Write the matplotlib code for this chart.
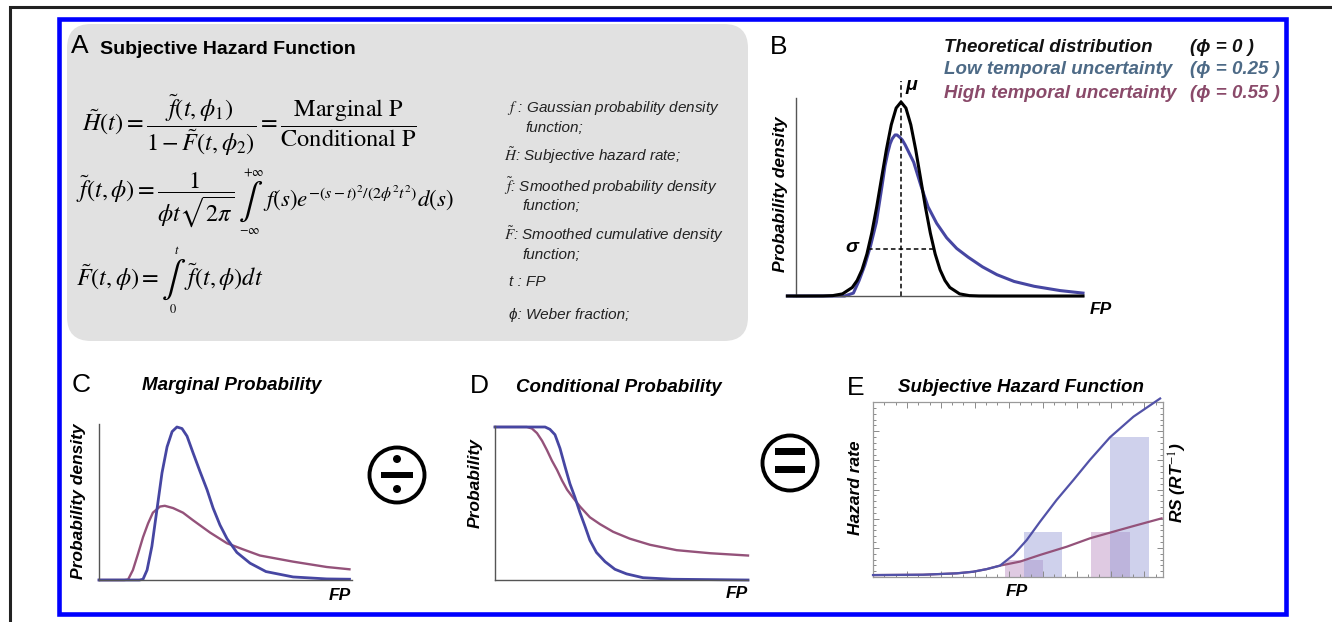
import matplotlib
matplotlib.use("Agg")
import matplotlib.pyplot as plt
from matplotlib.patches import Rectangle, Circle, FancyBboxPatch
from matplotlib.ticker import MultipleLocator

# figure size in pixels
W, H = 1332, 622

plt.rcParams['mathtext.fontset'] = 'stix'
plt.rcParams['font.family'] = ['Liberation Sans', 'DejaVu Sans']

# ---- data (FP axis 0..10, density 0..1) ----
# panel B: theoretical distribution and low-uncertainty smoothed version
b_theory_x = [-0.3, 0.26, 0.94, 1.28, 1.62, 1.96, 2.13, 2.30, 2.47, 2.64, 2.81, 2.98, 3.15,
              3.32, 3.49, 3.66, 3.83, 4.00, 4.17, 4.34, 4.51, 4.68, 4.85, 5.02, 5.19, 5.36,
              5.70, 6.04, 6.38, 7.0, 10.0]
b_theory_y = [0, 0, 0.0003, 0.002, 0.011, 0.044, 0.080, 0.135, 0.216, 0.325, 0.458, 0.607, 0.755,
              0.883, 0.969, 1.0, 0.969, 0.883, 0.755, 0.607, 0.458, 0.325, 0.216, 0.135, 0.080, 0.044,
              0.011, 0.002, 0.0003, 0, 0]
b_low_x = [-0.3, 1.7, 2.0, 2.2, 2.4, 2.6, 2.8, 3.0, 3.1, 3.2, 3.28, 3.35, 3.45, 3.52, 3.6, 3.7,
           3.8, 4.1, 4.35, 4.6, 4.9, 5.25, 5.6, 6.0, 6.5, 7.0, 7.6, 8.3, 9.2, 10.0]
b_low_y = [0, 0, 0.015, 0.08, 0.16, 0.26, 0.38, 0.57, 0.67, 0.74, 0.785, 0.81, 0.83, 0.83, 0.82,
           0.805, 0.78, 0.69, 0.57, 0.46, 0.375, 0.30, 0.245, 0.20, 0.15, 0.11, 0.075, 0.05, 0.028,
           0.015]
b_mu = 3.66
b_sigma_y = 0.242
b_sigma_x = [2.51, 4.81]

# panel C: marginal probability
c_low_x = [0, 1.6, 1.74, 1.90, 2.09, 2.29, 2.49, 2.69, 2.89, 3.08, 3.28, 3.48, 3.72, 3.99, 4.27,
           4.51, 4.78, 5.06, 5.45, 5.97, 6.6, 7.67, 9.0, 9.9]
c_low_y = [0, 0, 0.005, 0.065, 0.22, 0.46, 0.70, 0.87, 0.97, 1.0, 0.99, 0.94, 0.83, 0.71, 0.59,
           0.47, 0.36, 0.27, 0.18, 0.11, 0.055, 0.02, 0.007, 0.005]
c_high_x = [0, 1.0, 1.15, 1.34, 1.54, 1.74, 1.94, 2.13, 2.41, 2.6, 2.93, 3.32, 3.72, 4.39, 5.06,
            5.7, 6.36, 7.67, 9.0, 9.9]
c_high_y = [0, 0, 0.003, 0.065, 0.17, 0.28, 0.37, 0.44, 0.48, 0.485, 0.47, 0.44, 0.39, 0.31, 0.24,
            0.20, 0.16, 0.12, 0.085, 0.07]

# panel D: conditional probability
d_low_x = [0, 1.98, 2.17, 2.37, 2.57, 2.77, 2.96, 3.16, 3.36, 3.56, 3.75, 4.01, 4.35, 4.74, 5.2,
           5.85, 7.0, 10]
d_low_y = [1, 1, 0.985, 0.95, 0.86, 0.74, 0.63, 0.54, 0.44, 0.35, 0.26, 0.18, 0.12, 0.07, 0.04,
           0.015, 0.005, 0]
d_high_x = [0, 1.26, 1.46, 1.66, 1.86, 2.05, 2.25, 2.45, 2.65, 2.85, 3.1, 3.36, 3.75, 4.15, 4.67,
            5.33, 6.13, 7.18, 8.5, 10]
d_high_y = [1, 1, 0.99, 0.96, 0.91, 0.85, 0.78, 0.72, 0.65, 0.59, 0.535, 0.48, 0.41, 0.365, 0.315,
            0.27, 0.23, 0.195, 0.175, 0.16]

# panel E: subjective hazard + RS bars
e_low_x = [0, 1.73, 2.89, 3.45, 3.92, 4.38, 4.84, 5.30, 5.76, 6.33, 6.91, 7.48, 8.17, 8.98, 9.9]
e_low_y = [0.011, 0.013, 0.021, 0.03, 0.045, 0.065, 0.126, 0.211, 0.316, 0.44, 0.554, 0.669,
           0.798, 0.916, 1.02]
e_high_x = [0, 1.73, 2.89, 3.45, 3.92, 4.38, 5.07, 5.76, 6.68, 7.48, 8.29, 8.98, 9.95]
e_high_y = [0.011, 0.013, 0.021, 0.03, 0.045, 0.065, 0.088, 0.126, 0.173, 0.221, 0.259, 0.291, 0.335]
bar_high_x = [5.21, 8.18]
bar_high_h = [0.097, 0.259]
bar_low_x = [5.86, 8.85]
bar_low_h = [0.259, 0.798]
bar_w = 1.33

BLUE = '#4646a2'
MAUVE = '#94527a'
BI = dict(fontweight='bold', fontstyle='italic')
TS = 13.5   # panel titles / legend
LS = 12.5   # axis labels

fig = plt.figure(figsize=(W / 100, H / 100), dpi=100)
bg = fig.add_axes([0, 0, 1, 1])
bg.set_xlim(0, W)
bg.set_ylim(H, 0)
bg.axis('off')


def panel(xpix, ypix, xlim, ylim):
    # xpix: pixel x of data 0 and 10; ypix: pixel y of data 0 and 1
    sx = (xpix[1] - xpix[0]) / 10.0
    sy = ypix[0] - ypix[1]
    left = xpix[0] + xlim[0] * sx
    right = xpix[0] + xlim[1] * sx
    bottom = ypix[0] - ylim[0] * sy
    top = ypix[0] - ylim[1] * sy
    ax = fig.add_axes([left / W, 1 - bottom / H, (right - left) / W, (bottom - top) / H])
    ax.set_xlim(xlim)
    ax.set_ylim(ylim)
    ax.patch.set_alpha(0)
    ax.set_xticks([])
    ax.set_yticks([])
    for s in ['top', 'right']:
        ax.spines[s].set_visible(False)
    for s in ['left', 'bottom']:
        ax.spines[s].set_color('#555555')
        ax.spines[s].set_linewidth(1.0)
        ax.spines[s].set_position(('data', 0))
    return ax


# ---- frames ----
bg.plot([10, 10, W + 5], [H + 5, 7, 7], color='#222222', lw=2.2, solid_joinstyle='miter')
bg.add_patch(FancyBboxPatch((67, 24), 681, 317, boxstyle='round,pad=0,rounding_size=24',
                            fc='#e1e1e1', ec='none'))

# ---- panel A ----
bg.text(71, 46, 'A', fontsize=19, va='center', ha='left')
bg.text(100, 49, 'Subjective Hazard Function', fontsize=14, fontweight='bold', va='center')
bg.text(82, 125, r'$\tilde{H}(t)=\dfrac{\tilde{f}(t,\phi_1)}{1-\tilde{F}(t,\phi_2)}='
        r'\dfrac{\mathrm{Marginal\ P}}{\mathrm{Conditional\ P}}$', fontsize=17.5, va='center')

fig.canvas.draw()
rend = fig.canvas.get_renderer()
inv = bg.transData.inverted()


def extent(t):
    bb = t.get_window_extent(rend)
    (x0, y0), (x1, y1) = inv.transform([(bb.x0, bb.y0), (bb.x1, bb.y1)])
    return x0, x1, min(y0, y1), max(y0, y1)


def integral(x, yc, top_lab, bot_lab):
    # integral sign with limits written above and below it
    t = bg.text(x, yc + 2, r'$\int$', fontsize=26, va='center', ha='left')
    x0, x1, ytop, ybot = extent(t)
    xm = (x0 + x1) / 2
    bg.text(xm + 3, ytop - 1, top_lab, fontsize=9, va='bottom', ha='center')
    bg.text(xm - 1, ybot + 1, bot_lab, fontsize=9, va='top', ha='center')
    return x1


t2 = bg.text(76, 200, r'$\tilde{f}(t,\phi)=\dfrac{1}{\phi t\sqrt{2\pi}}$', fontsize=17.5,
             va='center')
x2 = integral(extent(t2)[1] + 4, 200, r'$+\infty$', r'$-\infty$')
bg.text(x2 - 1, 199, r'$f(s)e^{-(s-t)^2/(2\phi^2t^2)}d(s)$', fontsize=16.5, va='center')

t3 = bg.text(76, 278, r'$\tilde{F}(t,\phi)=$', fontsize=17.5, va='center')
x3 = integral(extent(t3)[1] + 2, 278, r'$t$', r'$0$')
bg.text(x3 - 2, 277, r'$\tilde{f}(t,\phi)dt$', fontsize=17.5, va='center')

defs = [
    (507, 108, r'$\mathit{f}$ : Gaussian probability density'),
    (525, 128, 'function;'),
    (504, 156, r'$\tilde{H}$: Subjective hazard rate;'),
    (504, 186, r'$\tilde{f}$: Smoothed probability density'),
    (522, 206, 'function;'),
    (504, 235, r'$\tilde{F}$: Smoothed cumulative density'),
    (522, 255, 'function;'),
    (509, 282, 't : FP'),
    (509, 315, 'ϕ: Weber fraction;'),
]
for x, y, s in defs:
    bg.text(x, y, s, fontsize=11, fontstyle='italic', va='center', ha='left', color='#222222')

# ---- panel B ----
bg.text(770, 47, 'B', fontsize=19, va='center')
legend_rows = [
    (47, 'Theoretical distribution', '(ϕ = 0 )', '#111111'),
    (70, 'Low temporal uncertainty', '(ϕ = 0.25 )', '#4d6a86'),
    (93, 'High temporal uncertainty', '(ϕ = 0.55 )', '#8a4a6a'),
]
for y, lab, phi, col in legend_rows:
    bg.text(944, y, lab, fontsize=TS, color=col, va='center', **BI)
    bg.text(1190, y, phi, fontsize=TS, color=col, va='center', **BI)

axB = panel((796, 1083), (296, 102), (-0.5, 10.3), (-0.02, 1.13))
axB.spines['left'].set_bounds(0, 1.02)
axB.spines['bottom'].set_bounds(-0.1, 10.0)
axB.plot(b_theory_x, b_theory_y, color='black', lw=2.2, zorder=3)
axB.plot(b_low_x, b_low_y, color=BLUE, lw=2.2, zorder=2)
axB.plot([b_mu, b_mu], [0, 1.11], color='black', lw=1.1, ls=(0, (3, 2)))
axB.plot(b_sigma_x, [b_sigma_y, b_sigma_y], color='black', lw=1.1, ls=(0, (3, 2)))
bg.text(852, 248, 'σ', fontsize=14, va='center', ha='center', **BI)
bg.text(911, 85, 'μ', fontsize=14, va='center', ha='center', **BI)
bg.text(1101, 310, 'FP', fontsize=LS, va='center', ha='center', **BI)
bg.text(780, 194, 'Probability density', fontsize=LS, rotation=90, va='center', ha='center', **BI)

# ---- panel C ----
bg.text(72, 385, 'C', fontsize=19, va='center')
bg.text(232, 386, 'Marginal Probability', fontsize=TS, va='center', ha='center', **BI)
axC = panel((99, 352), (580, 427), (-0.1, 10.1), (-0.02, 1.05))
axC.spines['left'].set_bounds(0, 1.02)
axC.spines['bottom'].set_bounds(0, 10.0)
axC.plot(c_high_x, c_high_y, color=MAUVE, lw=1.7)
axC.plot(c_low_x, c_low_y, color=BLUE, lw=2.0)
bg.text(340, 595, 'FP', fontsize=LS, va='center', ha='center', **BI)
bg.text(78, 501, 'Probability density', fontsize=LS, rotation=90, va='center', ha='center', **BI)

# divide symbol
bg.add_patch(Circle((397, 475), 27.5, fill=False, ec='black', lw=2.8))
bg.add_patch(Rectangle((381, 471.5), 32, 6, fc='black', ec='none'))
bg.add_patch(Circle((397, 459), 4, fc='black', ec='none'))
bg.add_patch(Circle((397, 489), 4, fc='black', ec='none'))

# ---- panel D ----
bg.text(470, 386, 'D', fontsize=19, va='center')
bg.text(619, 387, 'Conditional Probability', fontsize=TS, va='center', ha='center', **BI)
axD = panel((495, 748), (580, 427), (-0.1, 10.1), (-0.02, 1.05))
axD.spines['left'].set_bounds(0, 1.005)
axD.spines['bottom'].set_bounds(0, 10.0)
axD.plot(d_high_x, d_high_y, color=MAUVE, lw=1.7)
axD.plot(d_low_x, d_low_y, color=BLUE, lw=2.0)
bg.text(737, 593, 'FP', fontsize=LS, va='center', ha='center', **BI)
bg.text(475, 483, 'Probability', fontsize=LS, rotation=90, va='center', ha='center', **BI)

# equals symbol
bg.add_patch(Circle((790, 463), 27.5, fill=False, ec='black', lw=2.8))
bg.add_patch(Rectangle((775, 448), 30, 6.5, fc='black', ec='none'))
bg.add_patch(Rectangle((775, 466), 30, 6.5, fc='black', ec='none'))

# ---- panel E ----
bg.text(847, 388, 'E', fontsize=19, va='center')
bg.text(1021, 388, 'Subjective Hazard Function', fontsize=TS, va='center', ha='center', **BI)
axE = fig.add_axes([873 / W, 1 - 577 / H, 290 / W, 175 / H])
axE.set_xlim(0, 10)
axE.set_ylim(0, 1)
axE.patch.set_alpha(0)
for s in axE.spines.values():
    s.set_color('#9a9a9a')
    s.set_linewidth(0.9)
axE.xaxis.set_major_locator(MultipleLocator(1.17))
axE.xaxis.set_minor_locator(MultipleLocator(0.39))
axE.yaxis.set_major_locator(MultipleLocator(1 / 6))
axE.yaxis.set_minor_locator(MultipleLocator(1 / 30))
axE.tick_params(which='both', direction='in', top=True, right=True, labelleft=False,
                labelbottom=False, color='#8a8a8a', width=0.7)
axE.tick_params(which='major', length=4)
axE.tick_params(which='minor', length=2)
axE.bar(bar_high_x, bar_high_h, width=bar_w, color='#b98bc0', alpha=0.45, zorder=1)
axE.bar(bar_low_x, bar_low_h, width=bar_w, color='#959bd6', alpha=0.45, zorder=1)
axE.plot(e_high_x, e_high_y, color=MAUVE, lw=1.6, zorder=3)
axE.plot(e_low_x, e_low_y, color='#5252a8', lw=1.6, zorder=3, clip_on=False)
bg.text(1017, 592, 'FP', fontsize=LS, va='center', ha='center', **BI)
bg.text(855, 488, 'Hazard rate', fontsize=LS, rotation=90, va='center', ha='center', **BI)
bg.text(1178, 483, r'RS (RT$^{-1}$)', fontsize=LS, rotation=90, va='center', ha='center', **BI)

# blue outer border drawn last
bg.add_patch(Rectangle((59, 18.5), 1226.5, 595.5, fill=False, ec='#0000ff', lw=3.3, zorder=10))

fig.savefig('out.png', dpi=100)
